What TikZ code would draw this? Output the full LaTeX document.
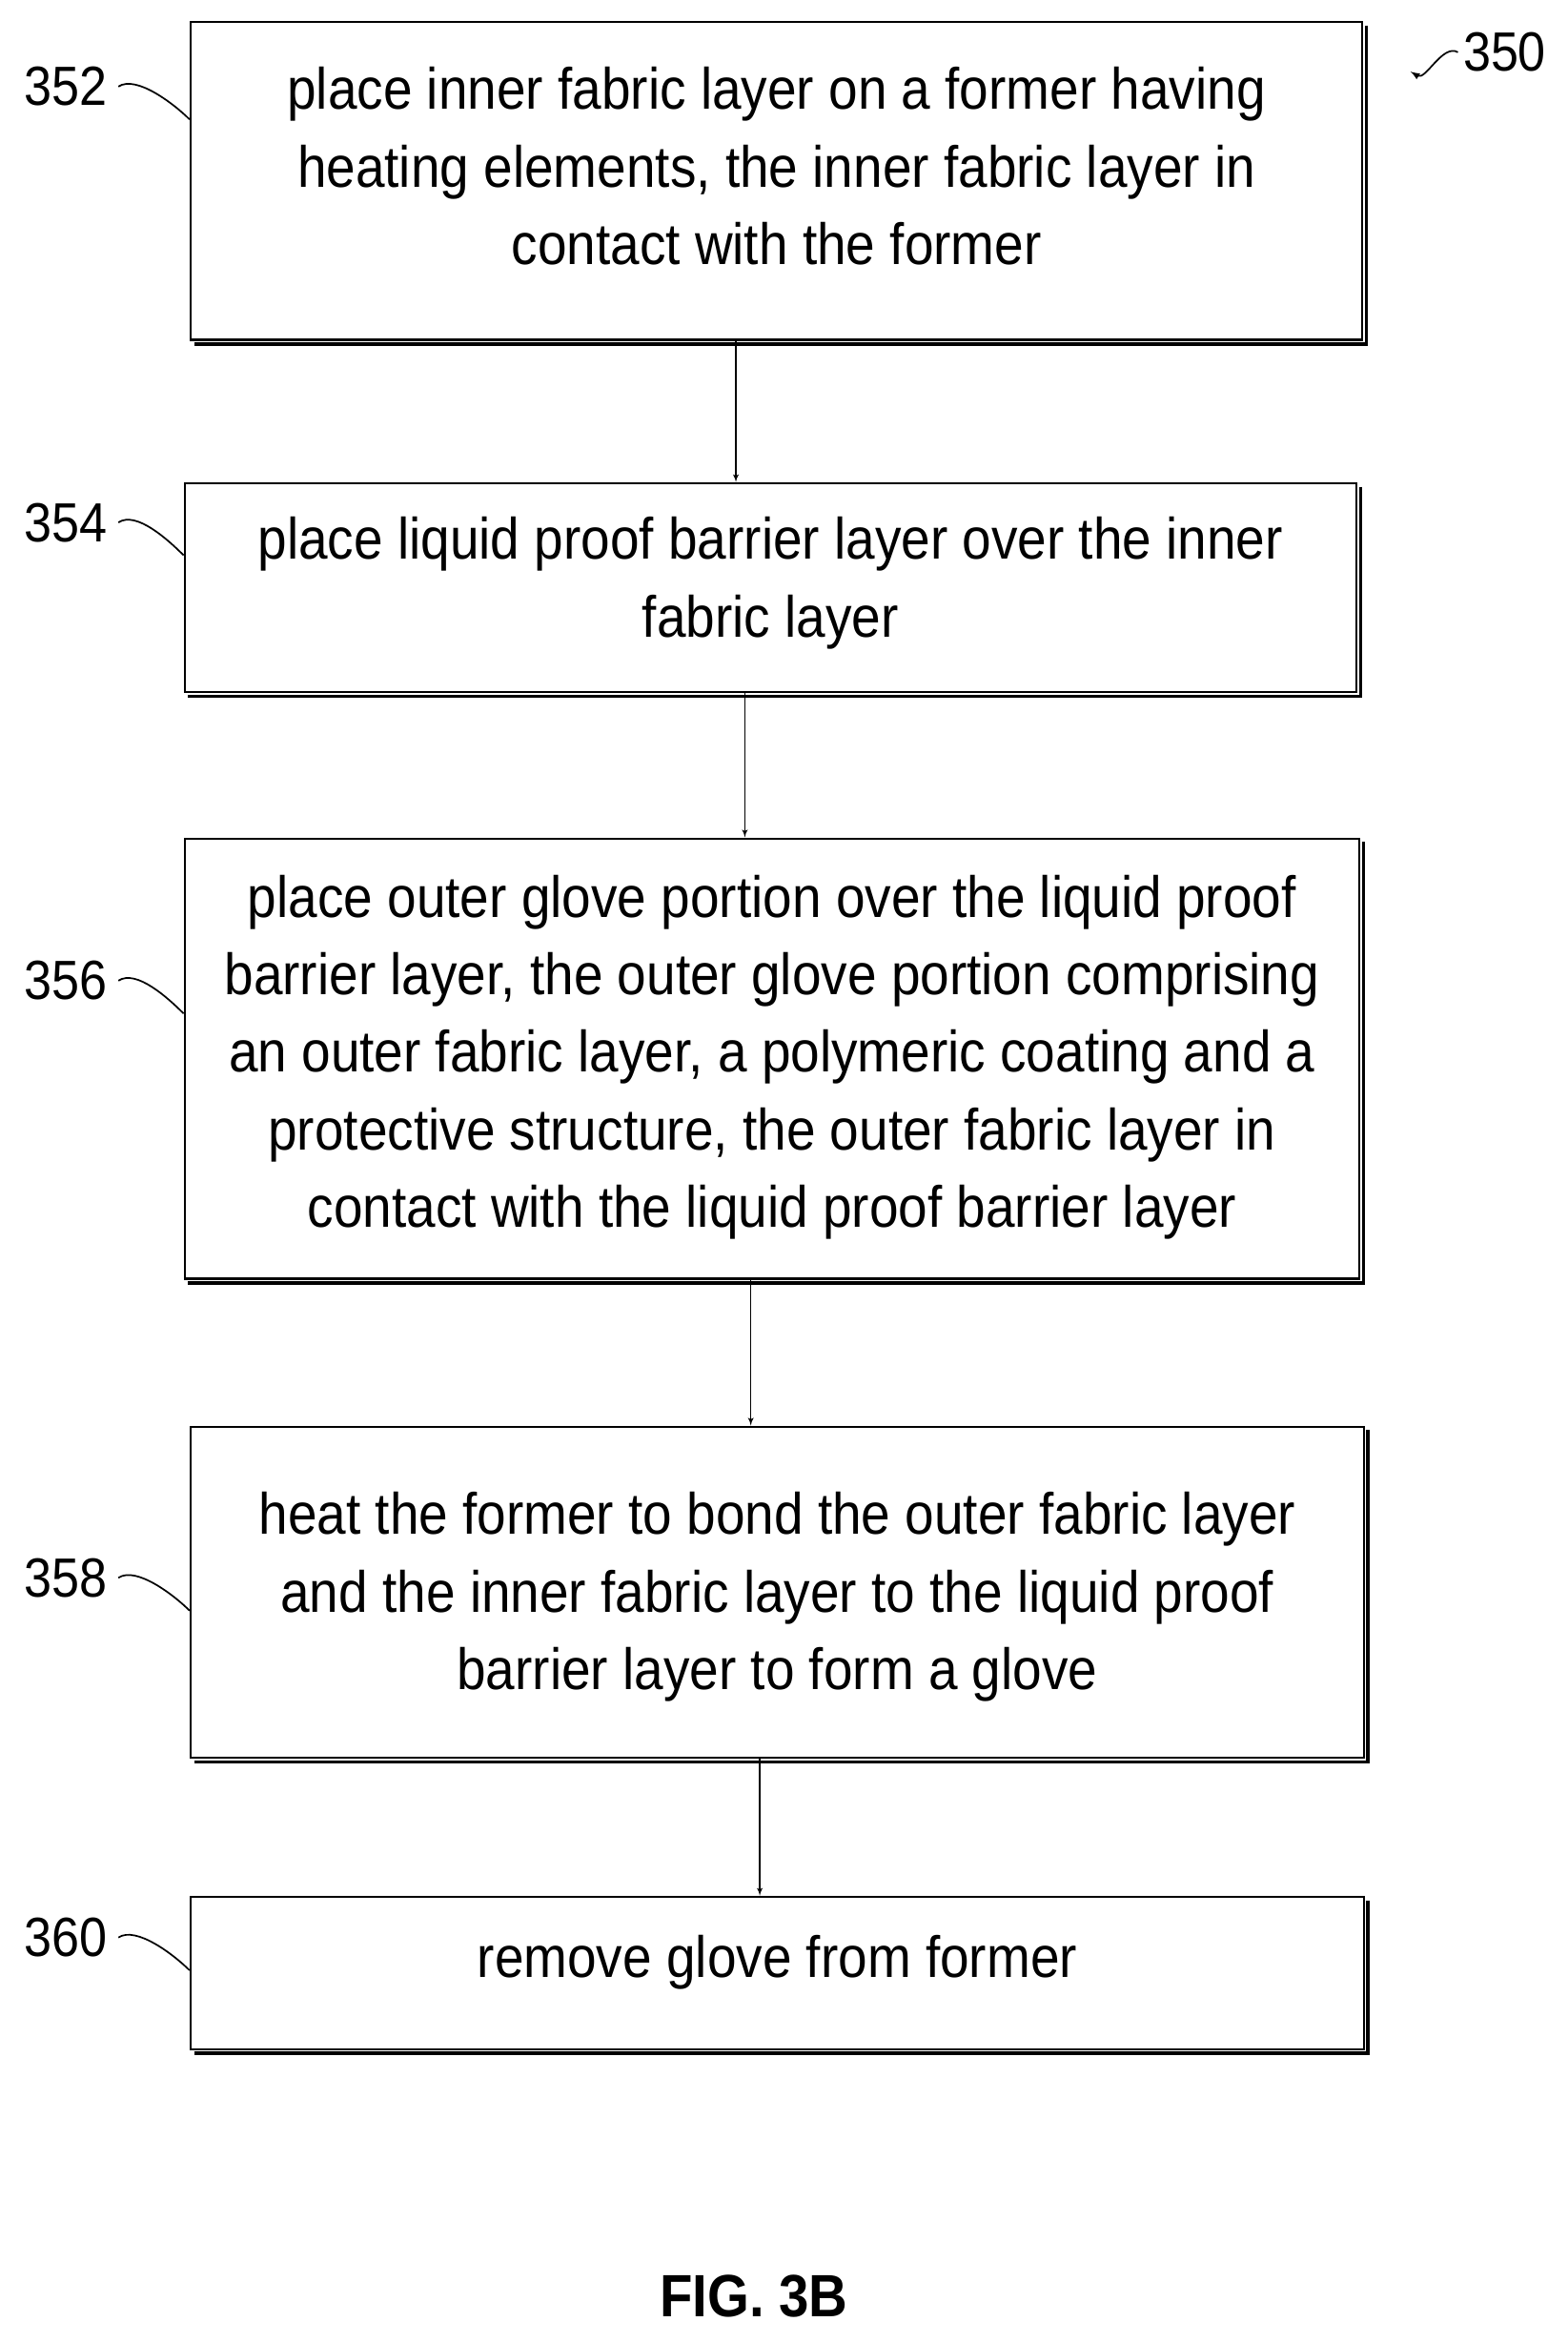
\documentclass[tikz,border=0pt]{standalone}
\usepackage{fontspec}
\setmainfont{Liberation Sans}[FakeStretch=0.9]
\usetikzlibrary{arrows,calc,positioning}
\tikzset{every picture/.style={
  >=latex'                      % LaTeX style arrows.
  }
}
\begin{document}
\begin{tikzpicture}[x=1pt,y=-1pt,
        stepbox/.style={
          rectangle,
          draw,
          line width=1.4pt,
          align=center,
          font=\fontsize{39}{52}\selectfont,
          inner sep=0pt,
        },
        numlabel/.style={font=\fontsize{37}{40}\selectfont},
        squig/.style={line width=1.1pt},
        flow/.style={->,line width=0.8pt},
      ]
      \useasboundingbox (0,0) rectangle (1050,1569);
      % boxes
      \node[stepbox,minimum width=785pt,minimum height=213pt,anchor=north west] (s352) at (127,14) {place inner fabric layer on a former having\\heating elements, the inner fabric layer in\\contact with the former\\[-32pt]};
      \node[stepbox,minimum width=785pt,minimum height=140pt,anchor=north west] (s354) at (123,323) {place liquid proof barrier layer over the inner\\fabric layer\\[-38pt]};
      \node[stepbox,minimum width=787pt,minimum height=295pt,anchor=north west] (s356) at (123,561) {place outer glove portion over the liquid proof\\barrier layer, the outer glove portion comprising\\an outer fabric layer, a polymeric coating and a\\protective structure, the outer fabric layer in\\contact with the liquid proof barrier layer\\[-42pt]};
      \node[stepbox,minimum width=786pt,minimum height=222pt,anchor=north west] (s358) at (127,955) {heat the former to bond the outer fabric layer\\and the inner fabric layer to the liquid proof\\barrier layer to form a glove\\[-50pt]};
      \node[stepbox,minimum width=786pt,minimum height=102pt,anchor=north west] (s360) at (127,1270) {remove glove from former\\[-30pt]};
      % shadows
      \foreach \b in {s352,s354,s356,s358,s360}
        \draw[line width=2.2pt] ($(\b.north east)+(2,3)$) -- ($(\b.south east)+(2,2)$) -- ($(\b.south west)+(3,2)$);
      % connectors
      \draw[flow] (s352.south -| 493,0) -- (s354.north -| 493,0);
      \draw[flow] (s354.south -| 499,0) -- (s356.north -| 499,0);
      \draw[flow] (s356.south -| 503,0) -- (s358.north -| 503,0);
      \draw[flow] (s358.south -| 509,0) -- (s360.north -| 509,0);
      % labels
      \foreach \b/\t/\y in {s352/352/58,s354/354/350,s356/356/657,s358/358/1057,s360/360/1298}{
        \node[numlabel] (l\t) at (44,\y) {\t};
        \draw[squig] (l\t.east) ++(4,0) .. controls +(12,-8) and +(-10,-10) .. ($(\b.west |- l\t.east)+(0,22)$);
      }
      \node[numlabel] (l350) at (1008,35) {350};
      \coordinate (a350) at (945,48);
      \draw[squig,-latex] (l350.west) .. controls +(-10,-6) and +(10,6) .. (a350);
      \node[font=\bfseries\fontsize{40}{44}\selectfont] (fig) at (505,1538) {FIG. 3B};
\end{tikzpicture}
\end{document}
